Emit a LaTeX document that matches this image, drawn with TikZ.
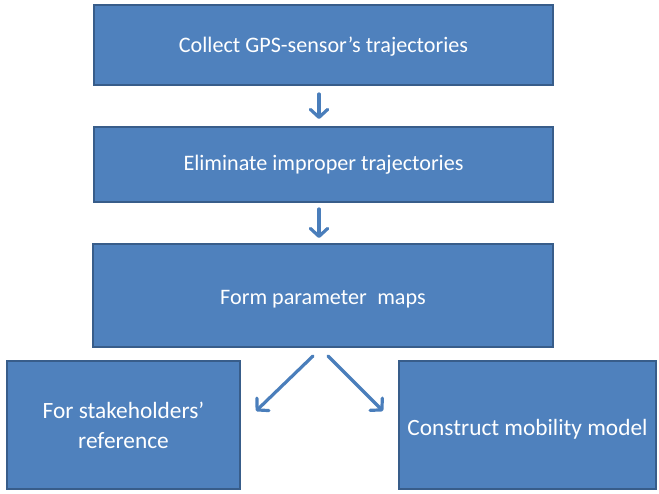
\documentclass[tikz,border=0pt]{standalone}
\usepackage{fontspec}
\setmainfont{Carlito}
\usetikzlibrary{arrows.meta}
\definecolor{boxfill}{HTML}{4F81BD}
\definecolor{boxline}{HTML}{385D8A}
\definecolor{arrowcol}{HTML}{4A7EBB}
\begin{document}
\begin{tikzpicture}[x=0.75pt,y=-0.75pt,
  stepbox/.style={draw=boxline,fill=boxfill,line width=1.6pt,text=white,
    align=center,inner sep=0pt,font=\fontsize{16.6}{22.5}\selectfont},
  bigbox/.style={stepbox,font=\fontsize{17.5}{22.5}\selectfont},
  flowarrow/.style={draw=arrowcol,line width=2.4pt,
    -{Straight Barb[length=6pt,width=13pt,round]},line cap=round}]
\useasboundingbox (0,0) rectangle (659,493);
\node[stepbox,minimum width=459*0.75pt,minimum height=80*0.75pt] (b1) at (323.5,45) {\raisebox{-1.5pt}[\height][\depth]{Collect GPS-sensor’s trajectories}};
\node[stepbox,minimum width=459*0.75pt,minimum height=75*0.75pt] (b2) at (323.5,164.5) {Eliminate improper trajectories};
\node[stepbox,minimum width=460*0.75pt,minimum height=103*0.75pt] (b3) at (323,295.5) {\raisebox{-2.5pt}[\height][\depth]{Form parameter\hspace{0.25em} maps}};
\node[bigbox,minimum width=233*0.75pt,minimum height=128*0.75pt] (b4) at (123.5,425) {For stakeholders’\\reference};
\node[bigbox,minimum width=257*0.75pt,minimum height=128*0.75pt] (b5) at (527.5,425) {\raisebox{-3pt}[\height][\depth]{Construct mobility model}};
\coordinate (a1s) at (319,94);
\coordinate (a1e) at (319,119);
\coordinate (a2s) at (319,209);
\coordinate (a2e) at (319,238);
\coordinate (a3s) at (313,356);
\coordinate (a3e) at (256,411);
\coordinate (a4s) at (328,356);
\coordinate (a4e) at (383,411);
\draw[flowarrow] (a1s) -- (a1e);
\draw[flowarrow] (a2s) -- (a2e);
\draw[flowarrow] (a3s) -- (a3e);
\draw[flowarrow] (a4s) -- (a4e);
\end{tikzpicture}
\end{document}
